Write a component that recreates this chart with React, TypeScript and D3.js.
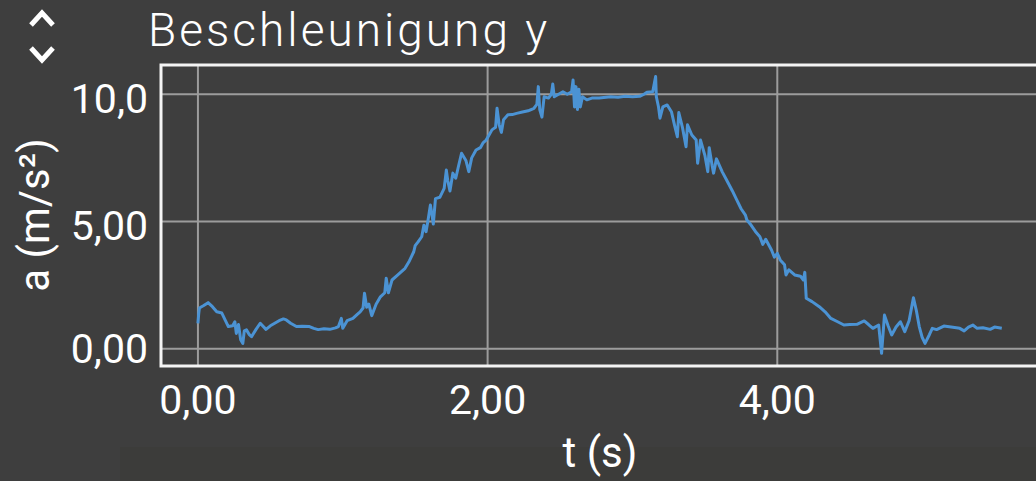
import React, { useEffect } from "react";
import * as d3 from "d3";

// ---- data ----
const timeS: number[] = [
  0.0, 0.005, 0.01, 0.04, 0.07, 0.1, 0.13, 0.165, 0.19, 0.21, 0.24, 0.255, 0.265, 0.28, 0.295, 0.31, 0.32, 0.335, 0.355, 0.37,
  0.4, 0.43, 0.47, 0.5, 0.53, 0.56, 0.59, 0.61, 0.64, 0.68, 0.72, 0.77, 0.8, 0.83, 0.87, 0.91, 0.95, 0.97, 0.99, 1.0,
  1.03, 1.07, 1.1, 1.12, 1.14, 1.15, 1.165, 1.18, 1.2, 1.23, 1.26, 1.29, 1.3, 1.315, 1.34, 1.38, 1.43, 1.46, 1.49, 1.5,
  1.52, 1.545, 1.56, 1.575, 1.59, 1.605, 1.615, 1.625, 1.64, 1.67, 1.7, 1.715, 1.725, 1.74, 1.76, 1.78, 1.8, 1.82, 1.85, 1.87,
  1.89, 1.92, 1.95, 1.97, 1.99, 2.01, 2.03, 2.055, 2.065, 2.08, 2.095, 2.11, 2.14, 2.17, 2.2, 2.24, 2.28, 2.32, 2.34, 2.35,
  2.36, 2.375, 2.39, 2.42, 2.44, 2.45, 2.46, 2.49, 2.52, 2.55, 2.58, 2.59, 2.6, 2.61, 2.62, 2.63, 2.64, 2.655, 2.685, 2.72,
  2.77, 2.85, 2.9, 2.95, 3.0, 3.05, 3.08, 3.1, 3.14, 3.16, 3.165, 3.18, 3.19, 3.21, 3.24, 3.27, 3.29, 3.31, 3.32, 3.345,
  3.37, 3.38, 3.41, 3.44, 3.45, 3.47, 3.5, 3.52, 3.53, 3.55, 3.56, 3.58, 3.62, 3.65, 3.69, 3.72, 3.75, 3.78, 3.79, 3.82,
  3.85, 3.88, 3.9, 3.92, 3.96, 3.98, 4.0, 4.02, 4.05, 4.06, 4.08, 4.12, 4.16, 4.18, 4.19, 4.2, 4.24, 4.29, 4.33, 4.37,
  4.42, 4.46, 4.5, 4.55, 4.6, 4.63, 4.66, 4.7, 4.72, 4.74, 4.765, 4.79, 4.82, 4.85, 4.88, 4.91, 4.94, 4.96, 4.98, 5.0,
  5.02, 5.05, 5.07, 5.1, 5.15, 5.2, 5.26, 5.29, 5.32, 5.35, 5.38, 5.42, 5.47, 5.5, 5.55,
];
const accelY: number[] = [
  1.0, 1.35, 1.6, 1.7, 1.81, 1.65, 1.45, 1.4, 1.1, 0.87, 0.9, 1.06, 0.6, 0.95, 0.35, 0.21, 0.7, 0.74, 0.55, 0.47,
  0.75, 1.0, 0.76, 0.9, 1.0, 1.1, 1.17, 1.13, 1.0, 0.87, 0.88, 0.87, 0.8, 0.75, 0.78, 0.76, 0.82, 0.87, 1.19, 0.8,
  1.1, 1.19, 1.35, 1.45, 1.6, 2.18, 1.63, 1.75, 1.3, 1.75, 2.04, 2.2, 2.77, 2.2, 2.7, 2.9, 3.16, 3.45, 3.81, 4.05,
  4.2, 4.4, 4.85, 4.6, 5.1, 5.65, 5.3, 4.9, 5.9, 5.95, 6.3, 7.02, 6.6, 6.2, 6.9, 6.7, 7.2, 7.68, 7.4, 6.96,
  7.5, 7.81, 7.9, 8.1, 8.2, 8.4, 8.6, 8.7, 9.45, 8.8, 8.5, 9.0, 9.19, 9.2, 9.25, 9.3, 9.35, 9.45, 9.6, 10.3,
  9.4, 9.1, 9.9, 9.85, 10.0, 10.4, 9.9, 10.0, 10.1, 10.0, 10.1, 10.56, 9.5, 10.3, 9.4, 10.2, 9.5, 9.9, 9.78, 9.85,
  9.85, 9.9, 9.88, 9.92, 9.9, 9.92, 10.0, 10.08, 10.1, 10.7, 9.9, 9.5, 9.06, 9.5, 9.58, 9.3, 8.8, 8.33, 9.28, 8.7,
  7.94, 8.8, 8.4, 8.2, 7.29, 8.2, 7.6, 6.96, 7.9, 7.2, 6.9, 7.46, 6.95, 6.63, 6.2, 5.85, 5.5, 5.25, 5.06, 4.85,
  4.6, 4.4, 4.1, 4.3, 3.88, 3.6, 3.75, 3.49, 3.3, 2.9, 3.1, 2.9, 2.85, 2.7, 3.0, 1.98, 1.85, 1.65, 1.45, 1.19,
  1.05, 0.93, 0.95, 0.96, 1.09, 0.95, 0.8, 0.93, -0.18, 1.32, 0.9, 0.54, 0.85, 1.06, 0.67, 1.1, 2.0, 1.5, 0.87, 0.45,
  0.21, 0.55, 0.8, 0.75, 0.89, 0.85, 0.8, 0.7, 0.85, 0.93, 0.8, 0.82, 0.76, 0.85, 0.8,
];

const xTickValues: number[] = [0, 2, 4];
const xTickLabels: string[] = ["0,00", "2,00", "4,00"];
const yTickValues: number[] = [0, 5, 10];
const yTickLabels: string[] = ["0,00", "5,00", "10,0"];

const titleText = "Beschleunigung y";
const xAxisTitle = "t (s)";
const yAxisTitle = "a (m/s²)";

const W = 1036;
const H = 481;

export default function App() {
  useEffect(() => {
    document.body.style.margin = "0";
    document.body.style.background = "#3e3e3e";
  }, []);

  const plot = { left: 161, right: 1038, top: 65, bottom: 366 };
  const x = d3.scaleLinear().domain([-0.255, 5.8]).range([plot.left, plot.right]);
  const y = d3.scaleLinear().domain([-0.68, 11.15]).range([plot.bottom, plot.top]);

  const pts: [number, number][] = timeS.map((t, i) => [t, accelY[i]]);
  const line = d3
    .line<[number, number]>()
    .x((d) => x(d[0]))
    .y((d) => y(d[1]));

  const tickFont = "Roboto, 'Noto Sans', sans-serif";

  return (
    <svg
      width={W}
      height={H}
      viewBox={`0 0 ${W} ${H}`}
      style={{ position: "fixed", left: 0, top: 0, display: "block" }}
    >
      <rect x={0} y={0} width={W} height={H} fill="#3e3e3e" />
      <rect x={120} y={447} width={W - 120} height={H - 447} fill="#3c3c3a" />

      {/* up/down chevrons */}
      <g fill="none" stroke="#ffffff" strokeWidth={5} strokeLinejoin="miter" strokeLinecap="butt">
        <polyline points="31,25 42,13 53,25" />
        <polyline points="31,48 42,60 53,48" />
      </g>

      <text
        x={148}
        y={46}
        fill="#ffffff"
        fontFamily="Roboto, 'Noto Sans', sans-serif"
        fontWeight={300}
        fontSize={46}
        letterSpacing={3}
      >
        {titleText}
      </text>

      <defs>
        <clipPath id="plotClip">
          <rect x={plot.left} y={plot.top} width={plot.right - plot.left} height={plot.bottom - plot.top} />
        </clipPath>
      </defs>

      {/* grid */}
      <g stroke="#9c9c9c" strokeWidth={2}>
        {xTickValues.map((v) => (
          <line key={"gx" + v} x1={x(v)} x2={x(v)} y1={plot.top} y2={plot.bottom} />
        ))}
        {yTickValues.map((v) => (
          <line key={"gy" + v} x1={plot.left} x2={plot.right} y1={y(v)} y2={y(v)} />
        ))}
      </g>

      {/* data */}
      <path
        d={line(pts) || ""}
        fill="none"
        stroke="#4b93d4"
        strokeWidth={3}
        strokeLinejoin="round"
        clipPath="url(#plotClip)"
      />

      {/* frame */}
      <rect
        x={plot.left}
        y={plot.top}
        width={plot.right - plot.left + 10}
        height={plot.bottom - plot.top}
        fill="none"
        stroke="#f4f4f4"
        strokeWidth={3}
      />

      {/* y tick labels */}
      <g fill="#ffffff" fontFamily={tickFont} fontSize={41} textAnchor="end">
        {yTickValues.map((v, i) => (
          <text key={"yt" + v} x={148} y={Math.min(y(v) + 19, 363)}>
            {yTickLabels[i]}
          </text>
        ))}
      </g>

      {/* x tick labels */}
      <g fill="#ffffff" fontFamily={tickFont} fontSize={41} textAnchor="middle">
        {xTickValues.map((v, i) => (
          <text key={"xt" + v} x={x(v)} y={414}>
            {xTickLabels[i]}
          </text>
        ))}
      </g>

      <text x={600} y={467} fill="#ffffff" fontFamily={tickFont} fontSize={42} textAnchor="middle">
        {xAxisTitle}
      </text>
      <text
        transform="translate(49,215) rotate(-90)"
        fill="#ffffff"
        fontFamily={tickFont}
        fontSize={42}
        textAnchor="middle"
      >
        {yAxisTitle}
      </text>
    </svg>
  );
}
